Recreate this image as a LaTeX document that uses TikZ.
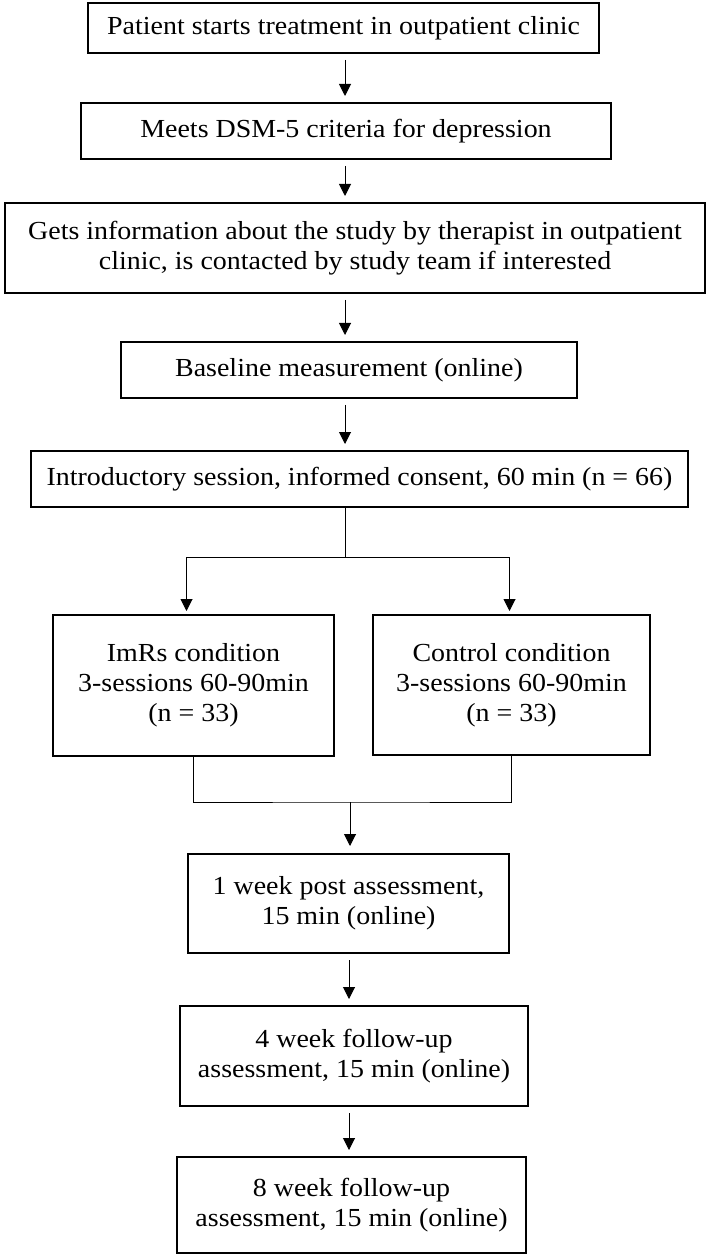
\documentclass[tikz,border=0pt]{standalone}
\usepackage{fontspec}
\setmainfont{Liberation Serif}[FakeStretch=1.075]
\usetikzlibrary{arrows.meta}

\begin{document}
\begin{tikzpicture}[x=0.5pt, y=-0.5pt,
		box/.style={draw, line width=1pt, align=center, inner sep=0pt, font=\fontsize{13}{15}\selectfont},
		link/.style={line width=0.5pt},
		arr/.style={link, -{Triangle[length=6pt, width=6pt]}, shorten >=3pt},
		gap/.style={shorten <=3pt}]
	\useasboundingbox (0,0) rectangle (707,1256);

	% steps before randomisation
	\begin{scope}
		\node [box, minimum width=255.5pt, minimum height=25pt] (start) at (343.5,28) {Patient starts treatment in outpatient clinic};
		\node [box, minimum width=265pt, minimum height=28pt] (dsm) at (346,131) {Meets DSM-5 criteria for depression};
		\node [box, minimum width=350pt, minimum height=45pt] (info) at (355,248) {Gets information about the study by therapist in outpatient\\clinic, is contacted by study team if interested};
		\node [box, minimum width=228pt, minimum height=28pt] (base) at (349,370) {Baseline measurement (online)};
		\node [box, minimum width=328.5pt, minimum height=28pt] (intro) at (359.5,479) {Introductory session, informed consent, 60 min (n = 66)};
	\end{scope}

	% the two conditions
	\begin{scope}
		\node [box, minimum width=140.5pt, minimum height=70.5pt] (imrs) at (193.5,685.5) {ImRs condition\\3-sessions 60-90min\\(n = 33)};
		\node [box, minimum width=138.5pt, minimum height=70pt] (ctrl) at (511.5,685) {Control condition\\3-sessions 60-90min\\(n = 33)};
	\end{scope}

	% assessments
	\begin{scope}
		\node [box, minimum width=160.5pt, minimum height=49.5pt] (post) at (348.5,903.5) {1 week post assessment,\\15 min (online)};
		\node [box, minimum width=174pt, minimum height=50pt] (fuA) at (354,1056) {4 week follow-up\\assessment, 15 min (online)};
		\node [box, minimum width=174.5pt, minimum height=48pt] (fuB) at (351.5,1205) {8 week follow-up\\assessment, 15 min (online)};
	\end{scope}

	\coordinate (spine) at (345,0);
	\coordinate (split) at (345,557);
	\coordinate (merge) at (350,802);

	\begin{scope}
		\draw [arr, gap] (start.south -| spine) -- (dsm.north -| spine);
		\draw [arr, gap] (dsm.south -| spine) -- (info.north -| spine);
		\draw [arr, gap] (info.south -| spine) -- (base.north -| spine);
		\draw [arr, gap] (base.south -| spine) -- (intro.north -| spine);

		\draw [link] (intro.south -| spine) -- (split);
		\draw [arr, shorten >=1.5pt] (split) -| ([xshift=-3.5pt]imrs.north);
		\draw [arr, shorten >=1.5pt] (split) -| ([xshift=-1pt]ctrl.north);

		\draw [link] (imrs.south) |- (merge) -| (ctrl.south);
		\draw [arr, shorten >=3.5pt] (merge) -- (post.north -| merge);

		\draw [arr, gap] ([xshift=2pt]post.south -| spine) -- ([xshift=2pt]fuA.north -| spine);
		\draw [arr, gap] ([xshift=2pt]fuA.south -| spine) -- ([xshift=2pt]fuB.north -| spine);
	\end{scope}
\end{tikzpicture}
\end{document}
